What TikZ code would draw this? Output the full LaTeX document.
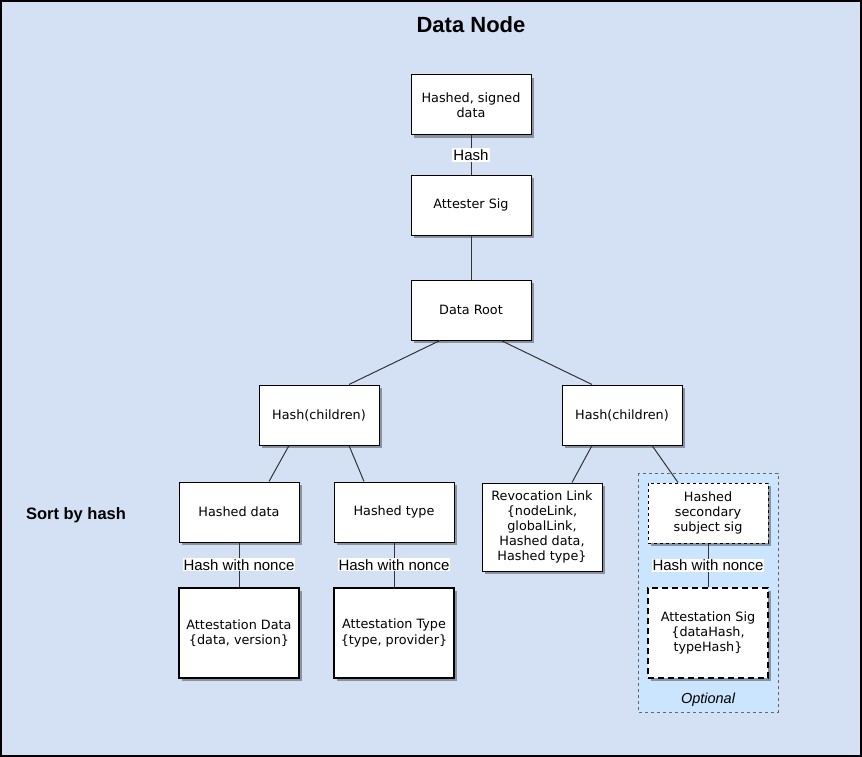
\documentclass[tikz,border=0pt]{standalone}
\usepackage{fontspec}
\usepackage{tikz}
\usetikzlibrary{shadows}

\newfontfamily\boxfont{DejaVu Sans}
\newfontfamily\labfont{Liberation Sans}

\definecolor{bgblue}{HTML}{D4E1F5}
\definecolor{optblue}{HTML}{CCE5FF}

\tikzset{
    box/.style={draw, fill=white, line width=1pt, minimum width=120, minimum height=60,
        align=center, inner sep=2pt, font=\boxfont\fontsize{12.8}{15.2}\selectfont,
        drop shadow={shadow xshift=3pt, shadow yshift=-3pt, fill=black, opacity=0.35}},
    thickbox/.style={box, line width=2pt, minimum height=90},
    lab/.style={fill=white, inner sep=1pt, font=\labfont\fontsize{15}{17}\selectfont},
    link/.style={draw=black!80, line width=1pt}
}

\begin{document}
\begin{tikzpicture}[x=1pt, y=-1pt]
    \useasboundingbox (0,0) rectangle (862,757);
    \draw[fill=bgblue, line width=2pt] (1,1) rectangle (861,756);
    \draw[fill=optblue, draw=black!60, dashed, line width=0.8pt] (638,473) rectangle (778,712);

    \node (title) at (471,25) {\labfont\bfseries\fontsize{22}{26}\selectfont Data Node};
    \node (sort) at (76,515) {\labfont\bfseries\fontsize{16.5}{20}\selectfont Sort by hash};
    \node (opt) at (708,700) {\labfont\itshape\fontsize{14.5}{17}\selectfont Optional};

    \node[box] (signed) at (471,105) {Hashed, signed\\data};
    \node[box] (attester) at (471,205) {Attester Sig};
    \node[box] (root) at (471,310) {Data Root};
    \node[box] (hl) at (319,415) {Hash(children)};
    \node[box] (hr) at (622,415) {Hash(children)};
    \node[box] (hdata) at (239,512) {Hashed data};
    \node[box] (htype) at (394,512) {Hashed type};
    \node[box, minimum height=88] (revoke) at (542,527) {Revocation Link\\\{nodeLink,\\globalLink,\\Hashed data,\\Hashed type\}};
    \node[box, dashed] (hsec) at (708,513) {Hashed\\secondary\\subject sig};
    \node[thickbox] (adata) at (239,633) {Attestation Data\\\{data, version\}};
    \node[thickbox] (atype) at (394,633) {Attestation Type\\\{type, provider\}};
    \node[thickbox, dash pattern=on 6pt off 4pt] (asig) at (708,633) {Attestation Sig\\\{dataHash,\\typeHash\}};

    \draw[link] (signed) -- node[lab] {Hash} (attester);
    \draw[link] (attester) -- (root);
    \draw[link] ([xshift=-31pt]root.south) -- ([xshift=30pt]hl.north);
    \draw[link] ([xshift=30pt]root.south) -- ([xshift=-30pt]hr.north);
    \draw[link] ([xshift=-30pt]hl.south) -- ([xshift=30pt]hdata.north);
    \draw[link] ([xshift=30pt]hl.south) -- ([xshift=-30pt]htype.north);
    \draw[link] ([xshift=-30pt]hr.south) -- ([xshift=30pt]revoke.north);
    \draw[link] ([xshift=30pt]hr.south) -- ([xshift=-30pt]hsec.north);
    \draw[link] (hdata) -- node[lab] {Hash with nonce} (adata);
    \draw[link] (htype) -- node[lab] {Hash with nonce} (atype);
    \draw[link] (hsec) -- node[lab] {Hash with nonce} (asig);
\end{tikzpicture}
\end{document}
